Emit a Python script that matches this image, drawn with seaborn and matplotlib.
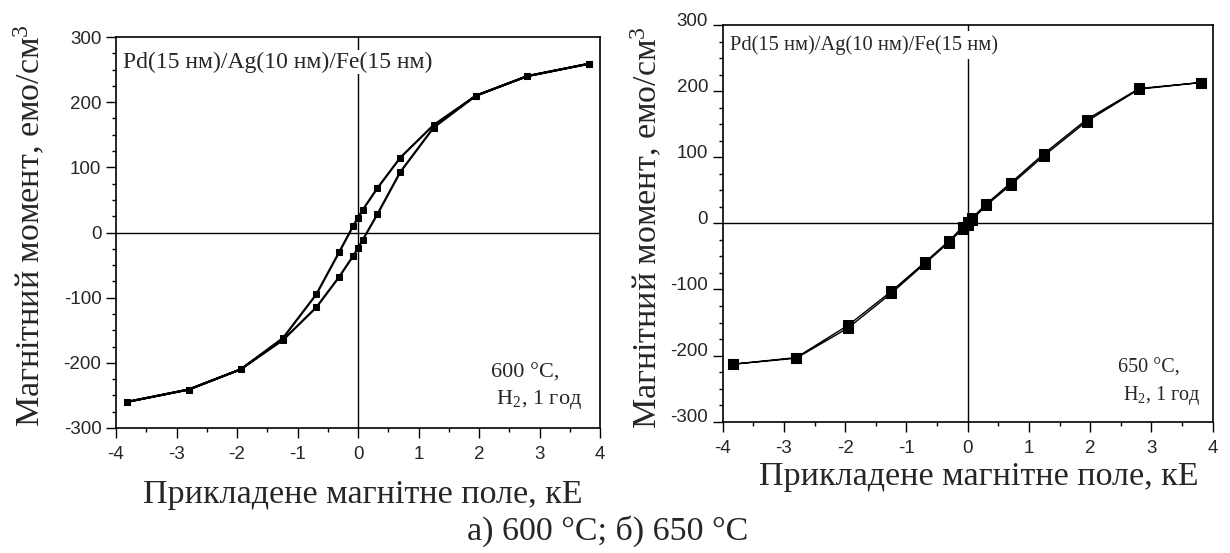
import numpy as np
import pandas as pd
import matplotlib
matplotlib.use("Agg")
import matplotlib.pyplot as plt
import matplotlib.transforms as mtransforms
from matplotlib.ticker import MultipleLocator
import seaborn as sns

# ---- data ----
field_600 = [3.82, 2.80, 1.95, 1.25, 0.70, 0.32, 0.08, 0.00, -0.08, -0.31, -0.69, -1.24, -1.94, -2.80, -3.82]
moment_600_down = [259, 240, 210, 165, 115, 68, 35, 23, 10, -30, -95, -162, -210, -241, -260]
moment_600_up = [-260, -241, -210, -165, -115, -68, -36, -24, -11, 28, 93, 161, 210, 240, 259]

field_650 = [3.81, 2.80, 1.94, 1.24, 0.70, 0.30, 0.07, 0.00, -0.08, -0.31, -0.70, -1.25, -1.95, -2.80, -3.83]
moment_650_down = [213, 204, 157, 105, 61, 29, 8, 2, -5, -27, -59, -103, -154, -203, -213]
moment_650_up = [-213, -204, -158, -106, -61, -29, -8, -2, 5, 27, 58, 102, 154, 203, 213]

sample_label = "Pd(15 нм)/Ag(10 нм)/Fe(15 нм)"
cond_600 = "600 °C,\n H$_2$, 1 год"
cond_650 = "650 °C,\n H$_2$, 1 год"
x_label = "Прикладене магнітне поле, кЕ"
y_label = "Магнітний момент, емо/см$^3$"
caption = "а) 600 °C; б) 650 °C"

sns.set_style("ticks")
plt.rcParams["font.family"] = ["Liberation Sans", "DejaVu Sans"]
plt.rcParams["axes.unicode_minus"] = False
plt.rcParams["mathtext.fontset"] = "custom"
plt.rcParams["mathtext.rm"] = "Liberation Serif"
plt.rcParams["mathtext.it"] = "Liberation Serif:italic"
SERIF = ["Liberation Serif", "DejaVu Serif"]

fig = plt.figure(figsize=(12.3, 5.53), dpi=100)
ax1 = fig.add_axes([116 / 1230, (553 - 428) / 553, 484 / 1230, 391 / 553])
ax2 = fig.add_axes([722.7 / 1230, (553 - 421.7) / 553, 490 / 1230, 396.7 / 553])


def loop_frame(field, down, up):
    x = list(field) + list(field[::-1])
    y = list(down) + list(up)
    return pd.DataFrame({"H": x, "M": y, "order": np.arange(len(x))})


def style_axes(ax, tick_fs):
    ax.set_xlim(-4, 4)
    ax.set_ylim(-300, 300)
    ax.xaxis.set_major_locator(MultipleLocator(1))
    ax.xaxis.set_minor_locator(MultipleLocator(0.5))
    ax.yaxis.set_major_locator(MultipleLocator(100))
    ax.yaxis.set_minor_locator(MultipleLocator(25))
    ax.tick_params(which="both", direction="out", top=False, right=False, color="black", width=1.0)
    ax.tick_params(which="major", length=7, labelsize=tick_fs)
    ax.tick_params(which="minor", length=3)
    ax.tick_params(axis="y", pad=3.5)
    ax.tick_params(axis="x", pad=6)
    for s in ax.spines.values():
        s.set_color("black")
        s.set_linewidth(1.2)
        s.set_visible(True)
    ax.axhline(0, color="black", lw=1.0, zorder=1)
    ax.axvline(0, color="black", lw=1.0, zorder=1)


# left panel
df1 = loop_frame(field_600, moment_600_down, moment_600_up)
sns.lineplot(data=df1, x="H", y="M", sort=False, estimator=None, ax=ax1, color="black",
             lw=1.6, marker="s", markersize=4, markeredgecolor="black", zorder=3)
style_axes(ax1, 13.5)
ax1.set_xlabel(x_label, fontsize=24.5, family=SERIF, va="baseline")
ax1.xaxis.set_label_coords((362.5 - 116) / 484, (428 - 503) / 391)
ax1.set_ylabel(y_label, fontsize=24.5, family=SERIF, va="center")
ax1.yaxis.set_label_coords((30 - 116) / 484, (428 - 226) / 391)
ax1.text(0.015, 0.962, sample_label, transform=ax1.transAxes, fontsize=17, family=SERIF,
         ha="left", va="top", zorder=5,
         bbox=dict(facecolor="white", edgecolor="none", pad=1))
ax1.text(0.775, 0.165, cond_600, transform=ax1.transAxes, fontsize=16, family=SERIF,
         ha="left", va="top", linespacing=1.35, zorder=5)

# right panel
df2 = loop_frame(field_650, moment_650_down, moment_650_up)
sns.lineplot(data=df2, x="H", y="M", sort=False, estimator=None, ax=ax2, color="black",
             lw=1.0, marker="s", markersize=7.5, markeredgecolor="black", zorder=3)
style_axes(ax2, 13.5)
ax2.set_xlabel(x_label, fontsize=24.5, family=SERIF, va="baseline")
ax2.xaxis.set_label_coords((978.5 - 722.7) / 490, (421.7 - 485) / 396.7)
ax2.set_ylabel(y_label, fontsize=24.5, family=SERIF, va="center")
ax2.yaxis.set_label_coords((647 - 722.7) / 490, (421.7 - 228) / 396.7)
ax2.text(0.015, 0.975, sample_label, transform=ax2.transAxes, fontsize=14.8, family=SERIF,
         ha="left", va="top", zorder=5,
         bbox=dict(facecolor="white", edgecolor="none", pad=3))
ax2.text(0.807, 0.158, cond_650, transform=ax2.transAxes, fontsize=14.5, family=SERIF,
         ha="left", va="top", linespacing=1.35, zorder=5)
# in the reference the right-panel y tick labels sit slightly above their ticks
shift = mtransforms.ScaledTranslation(0, 0.06, fig.dpi_scale_trans)
for lbl in ax2.get_yticklabels():
    lbl.set_transform(lbl.get_transform() + shift)

fig.text(608 / 1230, 1 - 540 / 553, caption, fontsize=24.5, family=SERIF, ha="center", va="baseline")

fig.savefig("out.png", dpi=100)
